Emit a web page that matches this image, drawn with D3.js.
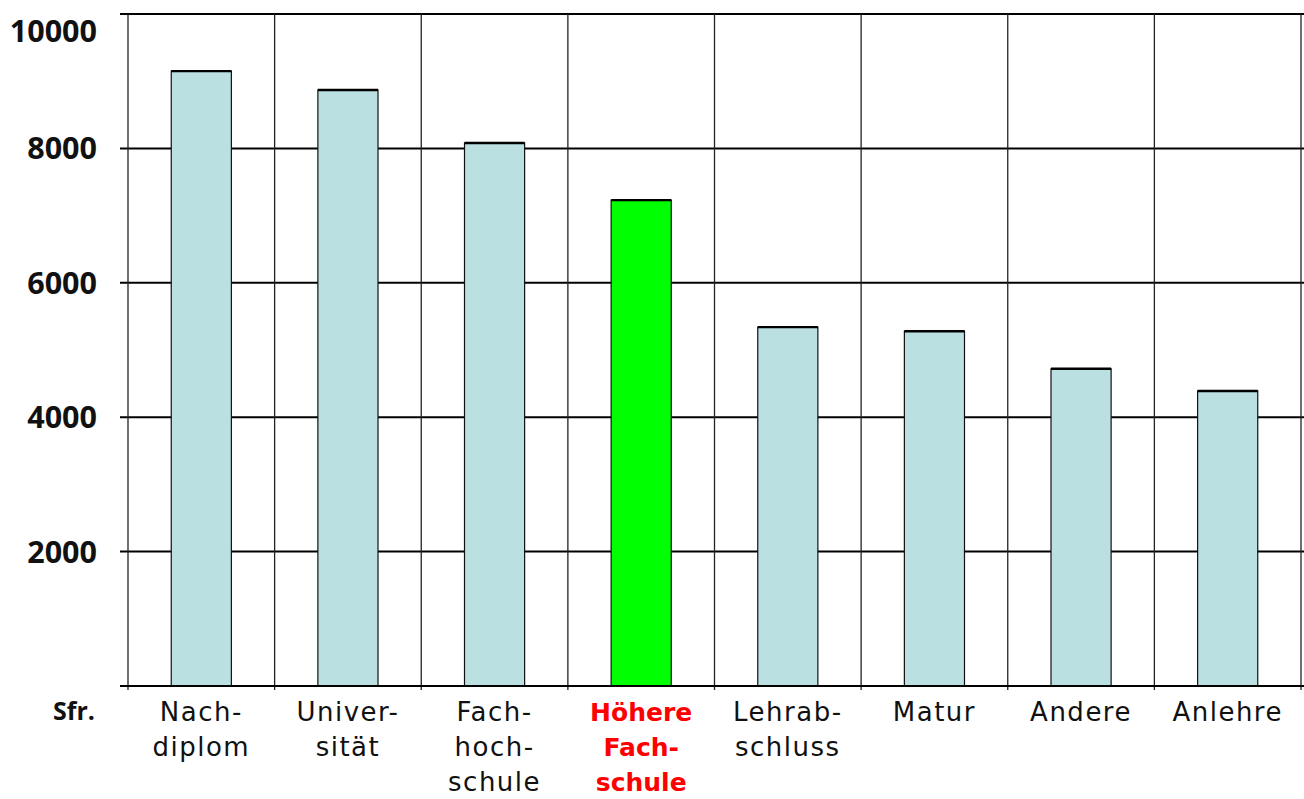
<!DOCTYPE html>
<html lang="de">
<head>
  <meta charset="utf-8">
  <title>Lohn nach Ausbildung</title>
  <style>
    html,body { margin:0; padding:0; background:#fff; overflow:hidden; }
    svg { display:block; }
    .cat   { font-family:"DejaVu Sans", sans-serif; font-size:26px; fill:#111; letter-spacing:1.5px; }
    .cat.hl { font-weight:bold; fill:#ff0000; font-size:25px; letter-spacing:0; }
    .tick  { font-family:"Open Sans", sans-serif; font-weight:700; font-size:30.5px; fill:#111; }
    .unit  { font-family:"Open Sans", sans-serif; font-weight:700; font-size:25px; fill:#111; }
  </style>
  <script src="https://d3js.org/d3.v7.min.js"></script>
</head>
<body>
<svg width="1304" height="799"></svg>
<script>
  // data
  const categories = ["Nachdiplom", "Universität", "Fachhochschule", "Höhere Fachschule",
                      "Lehrabschluss", "Matur", "Andere", "Anlehre"];
  const labelLines = [["Nach-", "diplom"], ["Univer-", "sität"], ["Fach-", "hoch-", "schule"],
                      ["Höhere", "Fach-", "schule"], ["Lehrab-", "schluss"], ["Matur"],
                      ["Andere"], ["Anlehre"]];
  const salaries   = [9150, 8870, 8080, 7230, 5340, 5280, 4720, 4390];
  const highlight  = "Höhere Fachschule";
  const yTicks     = [2000, 4000, 6000, 8000, 10000];

  const svg = d3.select("svg");
  const mLeft = 128, mRight = 1301, mTop = 14, mBottom = 686;

  const x = d3.scaleBand().domain(categories).range([mLeft, mRight]).paddingInner(0).paddingOuter(0);
  const y = d3.scaleLinear().domain([0, 10000]).range([mBottom, mTop]);
  const barW = x.bandwidth() * 0.41;

  // horizontal grid (incl. small ticks left of the axis)
  svg.append("g").selectAll("line")
    .data(yTicks)
    .join("line")
      .attr("x1", mLeft - 8).attr("x2", mRight + 3)
      .attr("y1", d => y(d)).attr("y2", d => y(d))
      .attr("stroke", "#000").attr("stroke-width", 2);

  // vertical separators
  const seps = categories.map(c => x(c)).concat([mRight]);
  svg.append("g").selectAll("line")
    .data(seps)
    .join("line")
      .attr("x1", d => d).attr("x2", d => d)
      .attr("y1", mTop).attr("y2", mBottom + 4)
      .attr("stroke", "#222").attr("stroke-width", 1.3);

  // bars
  const bars = svg.append("g").selectAll("g")
    .data(categories.map((c, i) => ({ c, v: salaries[i] })))
    .join("g");

  bars.append("rect")
    .attr("x", d => x(d.c) + (x.bandwidth() - barW) / 2)
    .attr("y", d => y(d.v))
    .attr("width", barW)
    .attr("height", d => mBottom - y(d.v))
    .attr("fill", d => d.c === highlight ? "#00ff00" : "#bae0e2")
    .attr("stroke", "#111").attr("stroke-width", 1.2);

  bars.append("line")
    .attr("x1", d => x(d.c) + (x.bandwidth() - barW) / 2)
    .attr("x2", d => x(d.c) + (x.bandwidth() + barW) / 2)
    .attr("y1", d => y(d.v)).attr("y2", d => y(d.v))
    .attr("stroke", "#000").attr("stroke-width", 2.4);

  // base axis line
  svg.append("line")
    .attr("x1", mLeft - 8).attr("x2", 1304)
    .attr("y1", mBottom).attr("y2", mBottom)
    .attr("stroke", "#000").attr("stroke-width", 2);

  // y tick labels (top one kept inside the view)
  svg.append("g").selectAll("text")
    .data(yTicks)
    .join("text")
      .attr("class", "tick")
      .attr("x", 97)
      .attr("y", d => Math.max(y(d), 31) + 11)
      .attr("text-anchor", "end")
      .text(d => d);

  svg.append("text").attr("class", "unit")
    .attr("x", 53).attr("y", 720).text("Sfr.");

  // category labels
  const lab = svg.append("g").selectAll("text")
    .data(categories.map((c, i) => ({ c, lines: labelLines[i] })))
    .join("text")
      .attr("class", d => d.c === highlight ? "cat hl" : "cat")
      .attr("text-anchor", "middle");

  lab.selectAll("tspan")
    .data(d => d.lines.map(t => ({ t, cx: x(d.c) + x.bandwidth() / 2 })))
    .join("tspan")
      .attr("x", d => d.cx)
      .attr("y", (d, i) => 721 + i * 35)
      .text(d => d.t);
</script>
</body>
</html>
